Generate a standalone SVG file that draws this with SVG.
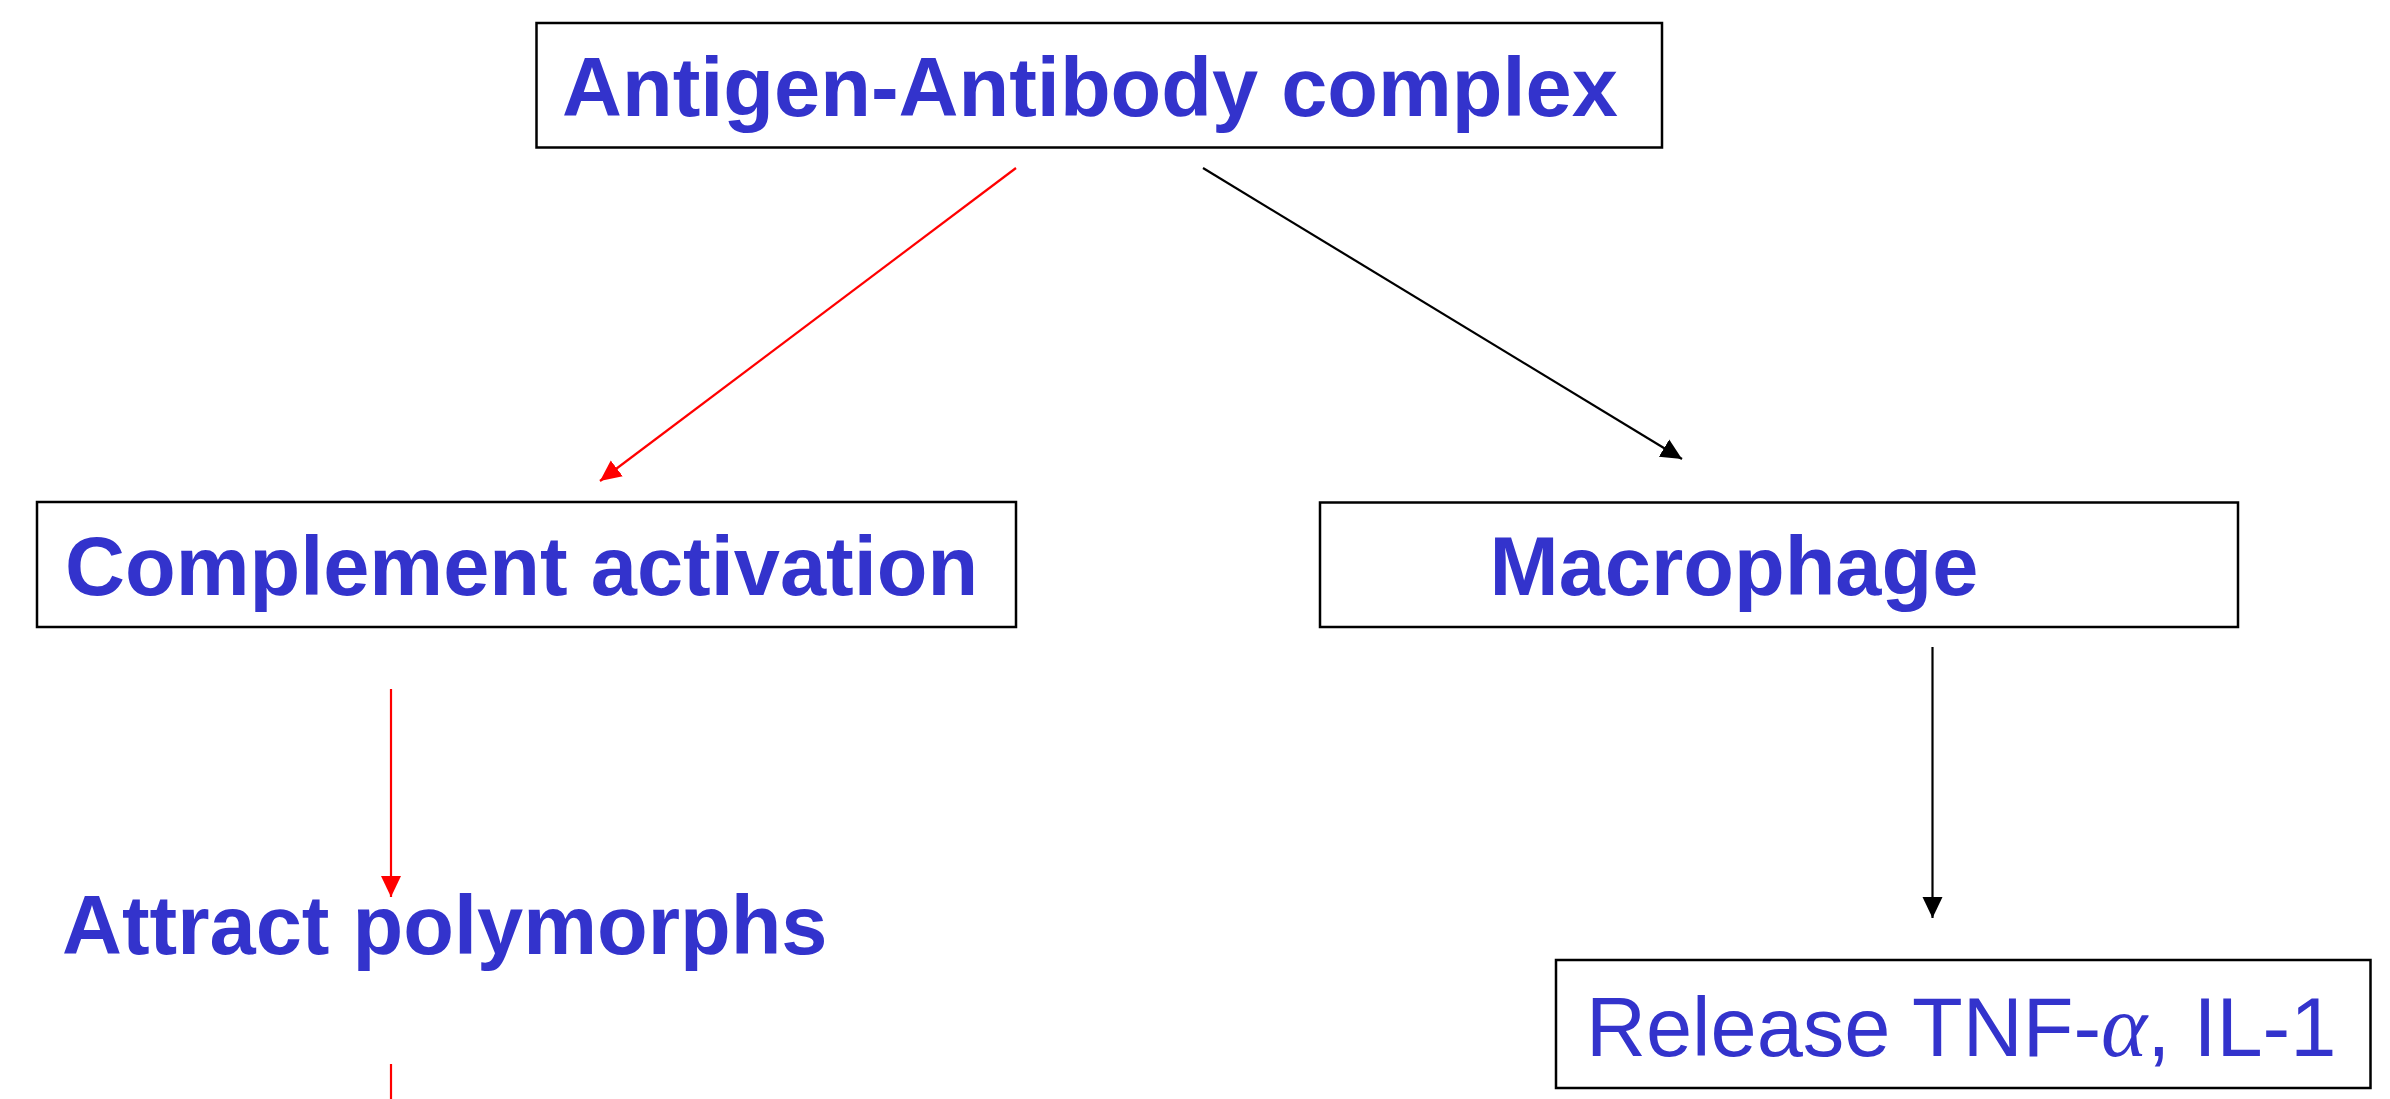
<svg xmlns="http://www.w3.org/2000/svg" width="2390" height="1099" viewBox="0 0 2390 1099">
<style>
.box{fill:#ffffff;stroke:#000000;stroke-width:2.5}
.t{font-family:"Liberation Sans",Arial,sans-serif;font-size:83px;fill:#3333CC}
.b{font-weight:bold}
.red{stroke:#FF0000;stroke-width:2.2;fill:none}
.blk{stroke:#000000;stroke-width:2.2;fill:none}
</style>
<defs>
<marker id="ahRed" markerUnits="userSpaceOnUse" markerWidth="22" markerHeight="22" viewBox="0 0 22 22" refX="21" refY="11" orient="auto">
<path d="M0,1 L21,11 L0,21 z" fill="#FF0000"/>
</marker>
<marker id="ahBlk" markerUnits="userSpaceOnUse" markerWidth="22" markerHeight="22" viewBox="0 0 22 22" refX="21" refY="11" orient="auto">
<path d="M0,1 L21,11 L0,21 z" fill="#000000"/>
</marker>
</defs>
<rect width="2390" height="1099" fill="#ffffff"/>
<g id="connectors">
<line class="red" x1="1016" y1="168" x2="600" y2="481" marker-end="url(#ahRed)"/>
<line class="blk" x1="1203" y1="168" x2="1682" y2="459" marker-end="url(#ahBlk)"/>
<line class="red" x1="391" y1="689" x2="391" y2="897" marker-end="url(#ahRed)"/>
<line class="red" x1="391" y1="1064" x2="391" y2="1099"/>
<line class="blk" x1="1932.5" y1="647" x2="1932.5" y2="918" marker-end="url(#ahBlk)"/>
</g>
<g id="node-antigen">
<rect class="box" x="536.5" y="23" width="1125.5" height="124.5"/>
<text class="t b" x="562" y="116">Antigen-Antibody complex</text>
</g>
<g id="node-complement">
<rect class="box" x="37" y="502" width="979" height="125"/>
<text class="t b" x="65" y="595">Complement activation</text>
</g>
<g id="node-macrophage">
<rect class="box" x="1320" y="502.5" width="918" height="124.5"/>
<text class="t b" x="1489.5" y="595">Macrophage</text>
</g>
<g id="node-attract">
<text class="t b" x="62" y="954">Attract polymorphs</text>
</g>
<g id="node-release">
<rect class="box" x="1556" y="960" width="814.5" height="128"/>
<text class="t" x="1586" y="1056">Release TNF-<tspan font-family="'Liberation Serif',serif" font-style="italic" font-size="88">α</tspan>, IL-1</text>
</g>
</svg>
